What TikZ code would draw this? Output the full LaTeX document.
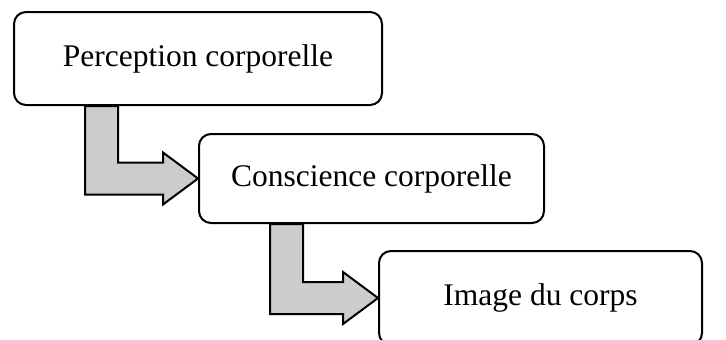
\documentclass[tikz,border=0pt]{standalone}
\usepackage{fontspec}
\setmainfont{Liberation Serif}
\usetikzlibrary{calc}

\tikzset{
  etape/.style={draw,line width=2pt,rounded corners=12pt,
     minimum width=#1,minimum height=90pt,inner sep=0pt,
     font=\fontsize{31.5}{36}\selectfont},
  fleche/.style={draw,line width=2pt,fill=gray!40,line join=miter}
}

% bent block arrow from below one box to the left side of the next
\newcommand{\flechecoude}[2]{
  \coordinate (s) at ($(#1.south west)+(72,0)$);
  \coordinate (t) at (#2.west);
  \draw [fleche]
     (s) -- ++(33,0) |- ($(t)+(-35,-16)$) -- ++(0,-10) -- (t)
     -- ++(-35,26) -- ++(0,-10) -| (s) -- cycle;
}

\begin{document}
\begin{tikzpicture}[x=1pt,y=-1pt]
   \useasboundingbox (0,0) rectangle (726,340);

   \node [etape=368pt,minimum height=93pt] (perception) at (198,58.5)
      {Perception corporelle};
   \node [etape=345pt,minimum height=89pt] (conscience) at (371.5,178.5)
      {Conscience corporelle};
   \node [etape=323pt,minimum height=94pt] (image) at (540.5,298)
      {Image du corps};

   \flechecoude{perception}{conscience}
   \flechecoude{conscience}{image}
\end{tikzpicture}
\end{document}
